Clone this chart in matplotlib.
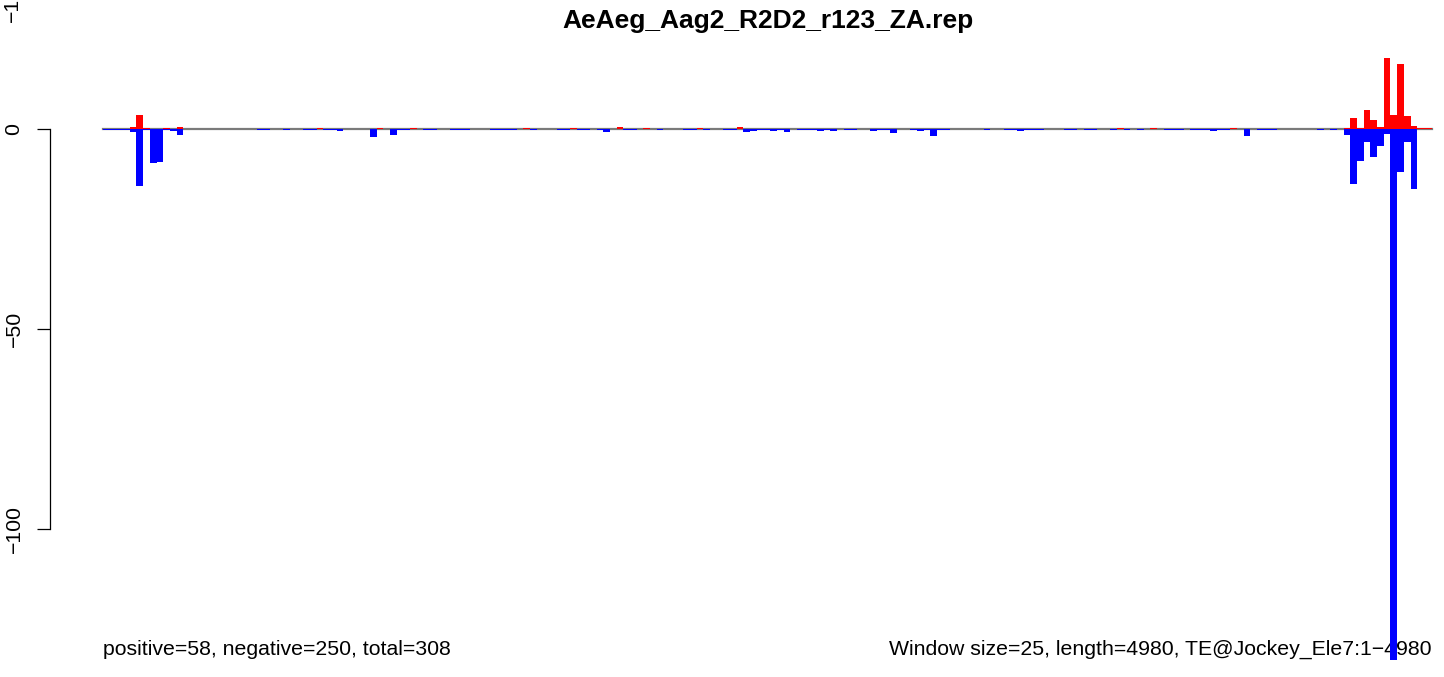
import numpy as np
import matplotlib
matplotlib.use("Agg")
import matplotlib.pyplot as plt

plt.rcParams['font.family'] = ['Liberation Sans', 'DejaVu Sans']

title = "AeAeg_Aag2_R2D2_r123_ZA.rep"
left_note = "positive=58, negative=250, total=308"
right_note = "Window size=25, length=4980, TE@Jockey_Ele7:1\u22124980"

window = 25
length = 4980

# window index -> value (0.3 = hairline bar)
pos_bins = [4, 5, 6, 9, 11, 32, 41, 46, 63, 70, 77, 81, 89, 95, 152, 157, 169,
            186, 187, 188, 189, 190, 191, 192, 193, 194, 195, 196, 197, 198, 199]
pos_vals = [0.6, 3.5, 0.3, 0.3, 0.4, 0.3, 0.3, 0.3, 0.3, 0.3, 0.5, 0.3, 0.3, 0.5, 0.3, 0.3, 0.3,
            0.3, 2.75, 0.3, 4.75, 2.25, 0.5, 17.75, 3.5, 16.25, 3.25, 0.75, 0.3, 0.3, 0.3]

neg_bins = [0, 1, 2, 3, 4, 5, 6, 7, 8, 9, 10, 11,
            23, 24, 27, 30, 31, 33, 34, 35, 40, 43, 44, 45, 48, 49, 52, 53, 54,
            58, 59, 60, 61, 64, 68, 69, 71, 72, 74, 75, 78, 79, 83, 87, 88, 90,
            93, 94, 96, 97, 98, 99, 100, 101, 102, 104, 105, 106, 107, 108, 109,
            111, 112, 115, 116, 117, 118, 121, 122, 123, 124, 125, 126, 132,
            135, 136, 137, 138, 139, 140, 144, 145, 147, 148, 151, 153, 155,
            159, 160, 161, 163, 164, 165, 166, 167, 168, 171, 173, 174, 175,
            182, 184, 186, 187, 188, 189, 190, 191, 192, 193, 194, 195, 196]
neg_vals = [-0.3, -0.3, -0.3, -0.3, -0.7, -14.2, -0.3, -8.4, -8.2, -0.3, -0.5, -1.4,
            -0.3, -0.3, -0.3, -0.3, -0.3, -0.3, -0.3, -0.5, -1.9, -1.5, -0.3, -0.3, -0.3, -0.3, -0.3, -0.3, -0.3,
            -0.3, -0.3, -0.3, -0.3, -0.3, -0.3, -0.3, -0.3, -0.3, -0.3, -0.7, -0.3, -0.3, -0.3, -0.3, -0.3, -0.3,
            -0.3, -0.3, -0.8, -0.4, -0.3, -0.3, -0.5, -0.3, -0.8, -0.3, -0.3, -0.3, -0.5, -0.3, -0.5,
            -0.3, -0.3, -0.5, -0.3, -0.3, -1.1, -0.3, -0.5, -0.3, -1.7, -0.3, -0.3, -0.3,
            -0.3, -0.3, -0.5, -0.3, -0.3, -0.3, -0.3, -0.3, -0.3, -0.3, -0.3, -0.3, -0.3,
            -0.3, -0.3, -0.3, -0.3, -0.3, -0.3, -0.5, -0.3, -0.3, -1.7, -0.3, -0.3, -0.3,
            -0.3, -0.3, -1.5, -13.75, -7.9, -3.2, -6.9, -4.25, -1.25, -132.75, -10.7, -3.2, -14.9]

yticks = [0, -50, -100]

W, H = 1444, 677
fig = plt.figure(figsize=(W / 100, H / 100), dpi=100)
# plot region in R: left edge at x=50px, 4% padding either side of the data
ax = fig.add_axes([50 / W, 0, 1435 / W, 1])
pad = 0.04 * length
ax.set_xlim(-pad, length + pad)
ax.set_ylim(-(H - 129) / 4, 129 / 4)


def edges(bins):
    left = np.array(bins) * window
    width = np.minimum(window, length - left)
    return left, width


ax.plot([0, length], [0, 0], color='#7a7a7a', lw=1.6, zorder=1)

x, w = edges(neg_bins)
ax.bar(x, neg_vals, width=w, align='edge', color='blue', linewidth=0, zorder=3)
x, w = edges(pos_bins)
ax.bar(x, pos_vals, width=w, align='edge', color='red', linewidth=0, zorder=4)

for s in ['top', 'right', 'bottom']:
    ax.spines[s].set_visible(False)
ax.spines['left'].set_bounds(-100, 0)
ax.spines['left'].set_linewidth(0.9)
ax.set_xticks([])
ax.set_yticks(yticks)
ax.set_yticklabels(['0', '\u221250', '\u2212100'])
ax.tick_params(axis='y', length=9.5, width=0.9, pad=9.5, labelsize=15.3,
               labelrotation=90)
for lab in ax.get_yticklabels():
    lab.set_verticalalignment('center')

# cut-off label from the panel above (the reference shows it clipped too)
fig.text(12 / W, 1 - 22 / H, '\u2212150', rotation=90, ha='center', va='bottom',
         fontsize=15.3)

fig.text(767.5 / W, 1 - 28 / H, title, ha='center', va='baseline',
         fontsize=19, fontweight='bold')

tr = ax.get_xaxis_transform()
ax.text(0, 1 - 655 / H, left_note, transform=tr, ha='left', va='baseline',
        fontsize=15.3, zorder=2)
ax.text(length, 1 - 655 / H, right_note, transform=tr, ha='right', va='baseline',
        fontsize=15.3, zorder=2)

fig.savefig('out.png', dpi=100)
